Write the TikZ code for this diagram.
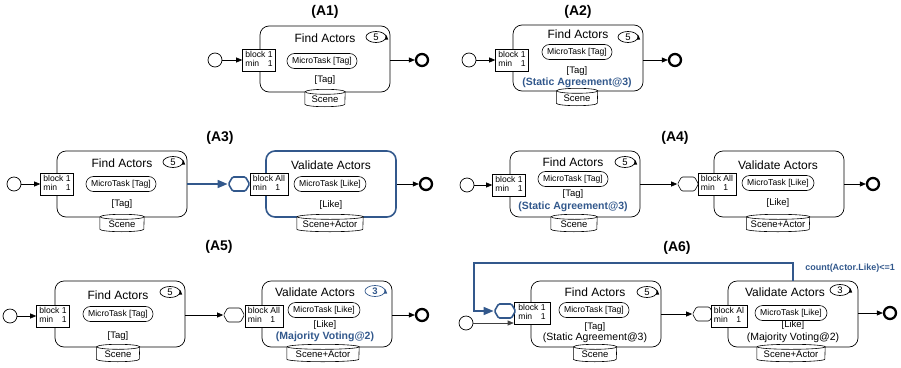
\documentclass[tikz,border=0pt]{standalone}
\usepackage{fontspec}
\setmainfont{Liberation Sans}
\usetikzlibrary{arrows.meta,shapes.geometric,shapes.symbols,shapes.misc}
\definecolor{bl}{RGB}{50,88,140}
\tikzset{
 task/.style={draw, rounded corners=9pt, minimum width=130pt, minimum height=66pt, line width=0.7pt, inner sep=0pt},
 taskb/.style={task, draw=bl, line width=1.6pt},
 ttl/.style={font=\fontsize{14}{16}\selectfont\bfseries, inner sep=0pt},
 nm/.style={font=\fontsize{12}{14}\selectfont, inner sep=0pt},
 mt/.style={draw, rounded rectangle, fill=white, font=\fontsize{8.6}{10}\selectfont, minimum height=15pt, inner xsep=4pt, inner ysep=0pt, line width=0.6pt},
 dat/.style={font=\fontsize{9.5}{11}\selectfont, inner sep=0pt},
 agr/.style={font=\fontsize{10.5}{12}\selectfont\bfseries, text=bl, inner sep=0pt},
 agrn/.style={font=\fontsize{10.5}{12}\selectfont, inner sep=0pt},
 blk/.style={draw, fill=white, font=\fontsize{8.6}{9.6}\selectfont, inner sep=1pt, minimum height=22pt, minimum width=33pt, line width=0.6pt},
 blkall/.style={blk, minimum width=38pt},
 loopm/.style={draw, ellipse, minimum width=20pt, minimum height=11pt, inner sep=0pt, font=\fontsize{9.5}{10}\selectfont, line width=0.7pt},
 startc/.style={draw, circle, minimum size=14pt, inner sep=0pt, line width=0.7pt},
 endc/.style={draw, circle, minimum size=12pt, inner sep=0pt, line width=2.3pt},
 hexn/.style={draw, fill=white, signal, signal to=east and west, signal pointer angle=120, rounded corners=1.2pt, minimum width=21pt, minimum height=14pt, inner sep=0pt, line width=0.6pt},
 hexb/.style={hexn, draw=bl, line width=1.6pt},
 arr/.style={-{Triangle[length=6pt,width=5pt]}, line width=0.6pt},
 barr/.style={-{Triangle[length=10pt,width=8pt]}, draw=bl, line width=1.6pt},
 dbbox/.style={inner sep=0pt, minimum height=12pt},
 dbtxt/.style={font=\fontsize{9.5}{11}\selectfont, inner sep=0pt},
 cnt/.style={font=\fontsize{9}{10}\selectfont\bfseries, text=bl, inner sep=0pt},
}
\newcommand{\blkt}[2]{\begin{tabular}{@{}l@{\ }l@{}}block&#1\\min&#2\end{tabular}}
\newcommand{\loopmk}[4][]{\node[loopm,#1] (#2) at (#3) {#4};
 \fill[#1] ([xshift=-1.6pt,yshift=-2.5pt]#2.east) -- ++(3.4pt,0pt) -- ++(-1.7pt,4.5pt) -- cycle;}
\newcommand{\dbase}[4]{\node[dbbox, minimum width=#3pt] (#1) at (#2) {};
 \filldraw[fill=white, line width=0.6pt] (#1.north west) -- (#1.south west) arc[start angle=180, end angle=360, x radius=#3pt/2, y radius=2.5pt] -- (#1.north east) arc[start angle=0, end angle=180, x radius=#3pt/2, y radius=2.5pt] -- cycle;
 \draw[line width=0.6pt] (#1.north east) arc[start angle=0, end angle=-180, x radius=#3pt/2, y radius=2.5pt];
 \node[dbtxt] (#1t) at ([yshift=-1.5pt]#1.center) {#4};}
\begin{document}
\begin{tikzpicture}[x=1pt,y=-1pt]
\useasboundingbox (0,0) rectangle (901,367);
% ---------- A1
\node[ttl] (t1) at (325,12) {(A1)};
\node[task] (f1) at (325,59) {};
\node[nm] (n1) at (325,38) {Find Actors};
\loopmk{l1}{376,37}{5}
\node[mt] (m1) at (322,61) {MicroTask [Tag]};
\node[dat] (d1) at (325,80) {[Tag]};
\dbase{s1}{325,98}{40}{Scene}
\node[blk] (k1) at (259,60) {\blkt{1}{1}};
\node[startc] (a1) at (215,60) {};
\node[endc] (e1) at (422,60) {};
\draw[arr] (a1) -- (k1.west |- a1);
\draw[arr] (f1.east |- e1) -- (e1);
% ---------- A2
\node[ttl] (t2) at (578,12) {(A2)};
\node[task] (f2) at (578,58) {};
\node[nm] (n2) at (578,34) {Find Actors};
\loopmk{l2}{628,37}{5}
\node[mt] (m2) at (577,52) {MicroTask [Tag]};
\node[dat] (d2) at (577,71) {[Tag]};
\node[agr] (g2) at (577,83) {(Static Agreement@3)};
\dbase{s2}{577,97}{41}{Scene}
\node[blk] (k2) at (512,60) {\blkt{1}{1}};
\node[startc] (a2) at (469,60) {};
\node[endc] (e2) at (675,60) {};
\draw[arr] (a2) -- (k2.west |- a2);
\draw[arr] (f2.east |- e2) -- (e2);
% ---------- A3
\node[ttl] (t3) at (220,138) {(A3)};
\node[task] (f3) at (122,184) {};
\node[nm] (n3) at (122,163) {Find Actors};
\loopmk{l3}{173,162}{5}
\node[mt] (m3) at (121,184) {MicroTask [Tag]};
\node[dat] (d3) at (122,204) {[Tag]};
\dbase{s3}{122,223}{44}{Scene}
\node[blk] (k3) at (57,184) {\blkt{1}{1}};
\node[startc] (a3) at (14,184) {};
\draw[arr] (a3) -- (k3.west |- a3);
\node[hexb] (h3) at (239,184) {};
\draw[barr] (f3.east) -- (h3.west);
\node[taskb] (v3) at (331,184) {};
\node[nm] (nv3) at (331,165) {Validate Actors};
\node[mt] (mv3) at (330,184) {MicroTask [Like]};
\node[dat] (dv3) at (331,205) {[Like]};
\dbase{sv3}{330,223}{66}{Scene+Actor}
\node[blkall] (kv3) at (269,184) {\blkt{All}{1}};
\node[endc] (e3) at (426,184) {};
\draw[arr] (v3.east) -- (e3);
% ---------- A4
\node[ttl] (t4) at (675,138) {(A4)};
\node[task] (f4) at (575,184) {};
\node[nm] (n4) at (573,162) {Find Actors};
\loopmk{l4}{625,162}{5}
\node[mt] (m4) at (573,179) {MicroTask [Tag]};
\node[dat] (d4) at (573,194) {[Tag]};
\node[agr] (g4) at (573,207) {(Static Agreement@3)};
\dbase{s4}{574,223}{46}{Scene}
\node[blk] (k4) at (509,185) {\blkt{1}{1}};
\node[startc] (a4) at (467,185) {};
\draw[arr] (a4) -- (k4.west |- a4);
\node[hexn] (h4) at (688,184) {};
\draw[arr] (f4.east) -- (h4.west);
\node[task] (v4) at (779,184) {};
\node[nm] (nv4) at (778,165) {Validate Actors};
\node[mt] (mv4) at (778,183) {MicroTask [Like]};
\node[dat] (dv4) at (778,203) {[Like]};
\dbase{sv4}{778,223}{63}{Scene+Actor}
\node[blkall] (kv4) at (717,184) {\blkt{All}{1}};
\node[endc] (e4) at (873,184) {};
\draw[arr] (v4.east) -- (e4);
% ---------- A5
\node[ttl] (t5) at (219,247) {(A5)};
\node[task] (f5) at (120,314) {};
\node[nm] (n5) at (118,295) {Find Actors};
\loopmk{l5}{170,292}{5}
\node[mt] (m5) at (118,314) {MicroTask [Tag]};
\node[dat] (d5) at (118,336) {[Tag]};
\dbase{s5}{118,353}{43}{Scene}
\node[blk] (k5) at (53,316) {\blkt{1}{1}};
\node[startc] (a5) at (10,316) {};
\draw[arr] (a5) -- (k5.west |- a5);
\node[hexn] (h5) at (234,315) {};
\draw[arr] (f5.east |- h5) -- (h5.west);
\node[task] (v5) at (327,314) {};
\node[nm] (nv5) at (315,292) {Validate Actors};
\loopmk[bl]{lv5}{375,291}{\bfseries 3}
\node[mt] (mv5) at (324,310) {MicroTask [Like]};
\node[dat] (dv5) at (325,325) {[Like]};
\node[agr] (gv5) at (325,337) {(Majority Voting@2)};
\dbase{sv5}{323,353}{72}{Scene+Actor}
\node[blkall] (kv5) at (264,316) {\blkt{All}{1}};
\node[endc] (e5) at (422,315) {};
\draw[arr] (v5.east |- e5) -- (e5);
% ---------- A6
\node[ttl] (t6) at (677,248) {(A6)};
\node[cnt] (c6) at (850,268) {count(Actor.Like)<=1};
\node[task] (f6) at (596,314) {};
\node[nm] (n6) at (595,292) {Find Actors};
\loopmk{l6}{647,292}{5}
\node[mt] (m6) at (594,310) {MicroTask [Tag]};
\node[dat] (d6) at (595,327) {[Tag]};
\node[agrn] (g6) at (595,338) {(Static Agreement@3)};
\dbase{s6}{595,353}{43}{Scene}
\node[blk, minimum width=36pt] (k6) at (532,313) {\blkt{1}{1}};
\node[hexb] (h6) at (505,311) {};
\node[startc] (a6) at (466,323) {};
\draw[arr, draw=black!75] (a6) -- (k6.west |- a6);
\node[hexn] (h7) at (703,314) {};
\draw[arr] (f6.east |- h7) -- (h7.west);
\node[task] (v6) at (793,314) {};
\node[nm] (nv6) at (785,292) {Validate Actors};
\loopmk{lv6}{840,290}{3}
\node[dat] (dv6) at (793,325) {[Like]};
\node[mt] (mv6) at (791,313) {MicroTask [Like]};
\node[agrn] (gv6) at (793,338) {(Majority Voting@2)};
\dbase{sv6}{791,353}{68}{Scene+Actor}
\node[blk, minimum width=36pt] (kv6) at (729,316) {\blkt{Al}{1}};
\node[endc] (e6) at (890,313) {};
\draw[arr] (v6.east |- e6) -- (e6);
\coordinate (lc6) at (474,263);
\draw[barr] (v6.north) |- (lc6) |- (h6.west);
\end{tikzpicture}
\end{document}
